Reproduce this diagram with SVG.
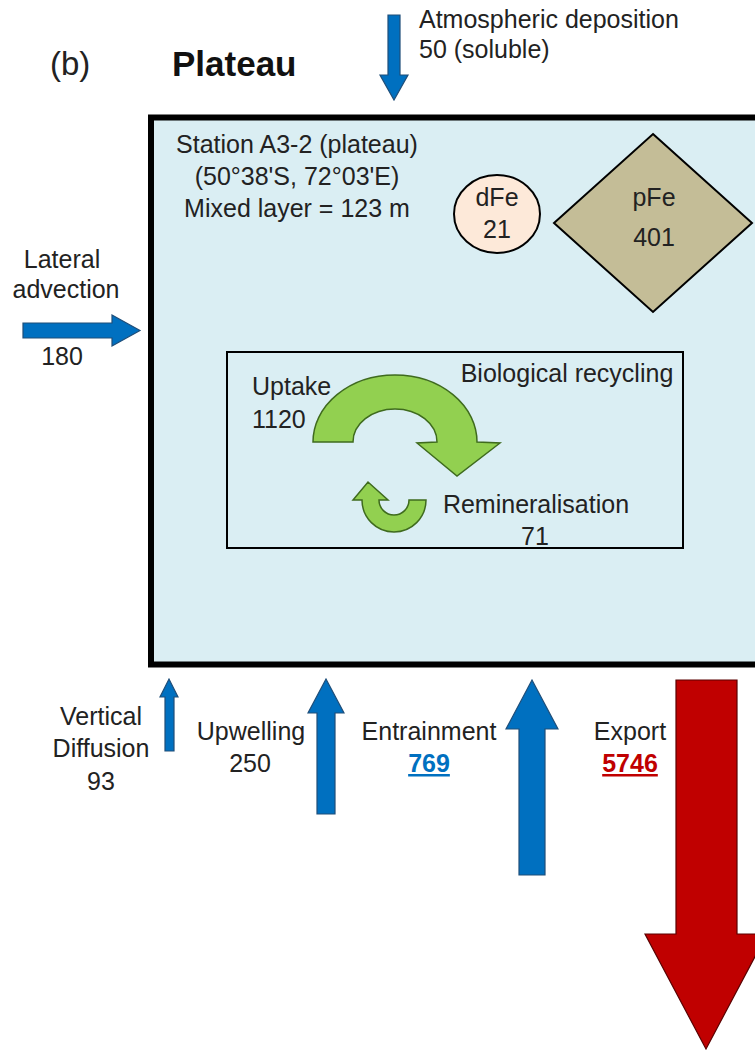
<svg xmlns="http://www.w3.org/2000/svg" width="755" height="1051" viewBox="0 0 755 1051">
  <style>
    .t { font-family: "Liberation Sans", Arial, sans-serif; font-size: 25px; fill: #222; }
    .m { text-anchor: middle; }
    .blue { fill: #0070c0; stroke: #1f4e79; stroke-width: 1.2; }
    .red { fill: #c00000; stroke: #5a0000; stroke-width: 1.2; }
    .green { fill: #92d050; stroke: #3f6b1e; stroke-width: 1.5; }
  </style>
  <rect x="0" y="0" width="755" height="1051" fill="#ffffff"/>

  <g id="title">
    <text class="t" x="50" y="75" style="font-size:33px">(b)</text>
    <text class="t" x="172" y="76" style="font-size:35px;font-weight:bold;fill:#111">Plateau</text>
  </g>

  <g id="mixed-layer">
    <rect x="151" y="117.5" width="650" height="547" fill="#daeef3" stroke="#000" stroke-width="6"/>
    <text class="t m" x="297" y="153">Station A3-2 (plateau)</text>
    <text class="t m" x="297" y="185">(50°38'S, 72°03'E)</text>
    <text class="t m" x="297" y="217">Mixed layer = 123 m</text>
  </g>

  <g id="dFe">
    <ellipse cx="497" cy="214" rx="43" ry="39" fill="#fde9d9" stroke="#000" stroke-width="2"/>
    <text class="t m" x="497" y="206">dFe</text>
    <text class="t m" x="497" y="238">21</text>
  </g>

  <g id="pFe">
    <polygon points="653,134 752,223 653,312 554,223" fill="#c4bd97" stroke="#000" stroke-width="2"/>
    <text class="t m" x="654" y="206">pFe</text>
    <text class="t m" x="654" y="246">401</text>
  </g>

  <g id="biological-recycling">
    <rect x="227" y="352" width="456" height="196" fill="none" stroke="#000" stroke-width="2"/>
    <text class="t m" x="567" y="382">Biological recycling</text>
  </g>

  <g id="uptake">
    <path class="green" d="M313,442 A82,67 0 0 1 477,442 L500,443 L457,476 L417,443 L437,442 A42,33 0 0 0 353,442 Z"/>
    <text class="t" x="252" y="395">Uptake</text>
    <text class="t" x="252" y="428">1120</text>
  </g>

  <g id="remineralisation">
    <path class="green" d="M426,500 A32,32 0 0 1 362,500 L353,500 L368,482 L388,500 L379,500 A15,15 0 0 0 409,500 Z"/>
    <text class="t m" x="536" y="513">Remineralisation</text>
    <text class="t m" x="535" y="545">71</text>
  </g>

  <g id="connectors">
    <polygon class="blue" points="388,15 400,15 400,75 408,75 394,100 380,75 388,75"/>
    <polygon class="blue" points="23,323 112,323 112,315 140,330.5 112,346 112,338 23,338"/>
    <polygon class="blue" points="165,751 165,697 160,697 169,679 178,697 174,697 174,751"/>
    <polygon class="blue" points="317,814 317,713 308,713 326,679 344,713 335,713 335,814"/>
    <polygon class="blue" points="519,875 519,729 506,729 532,680 558,729 545,729 545,875"/>
    <polygon class="red" points="676,680 737,680 737,934 767,934 706,1049 645,934 676,934"/>
  </g>

  <g id="labels">
    <text class="t" x="419" y="28">Atmospheric deposition</text>
    <text class="t" x="419" y="58">50 (soluble)</text>
    <text class="t m" x="62" y="268">Lateral</text>
    <text class="t m" x="66" y="298">advection</text>
    <text class="t m" x="62" y="365">180</text>
    <text class="t m" x="101" y="725">Vertical</text>
    <text class="t m" x="101" y="757">Diffusion</text>
    <text class="t m" x="101" y="790">93</text>
    <text class="t m" x="251" y="740">Upwelling</text>
    <text class="t m" x="250" y="772">250</text>
    <text class="t m" x="429" y="740">Entrainment</text>
    <text class="t m" x="429" y="772" style="font-weight:bold;fill:#0070c0;text-decoration:underline">769</text>
    <text class="t m" x="630" y="740">Export</text>
    <text class="t m" x="630" y="772" style="font-weight:bold;fill:#c00000;text-decoration:underline">5746</text>
  </g>
</svg>
